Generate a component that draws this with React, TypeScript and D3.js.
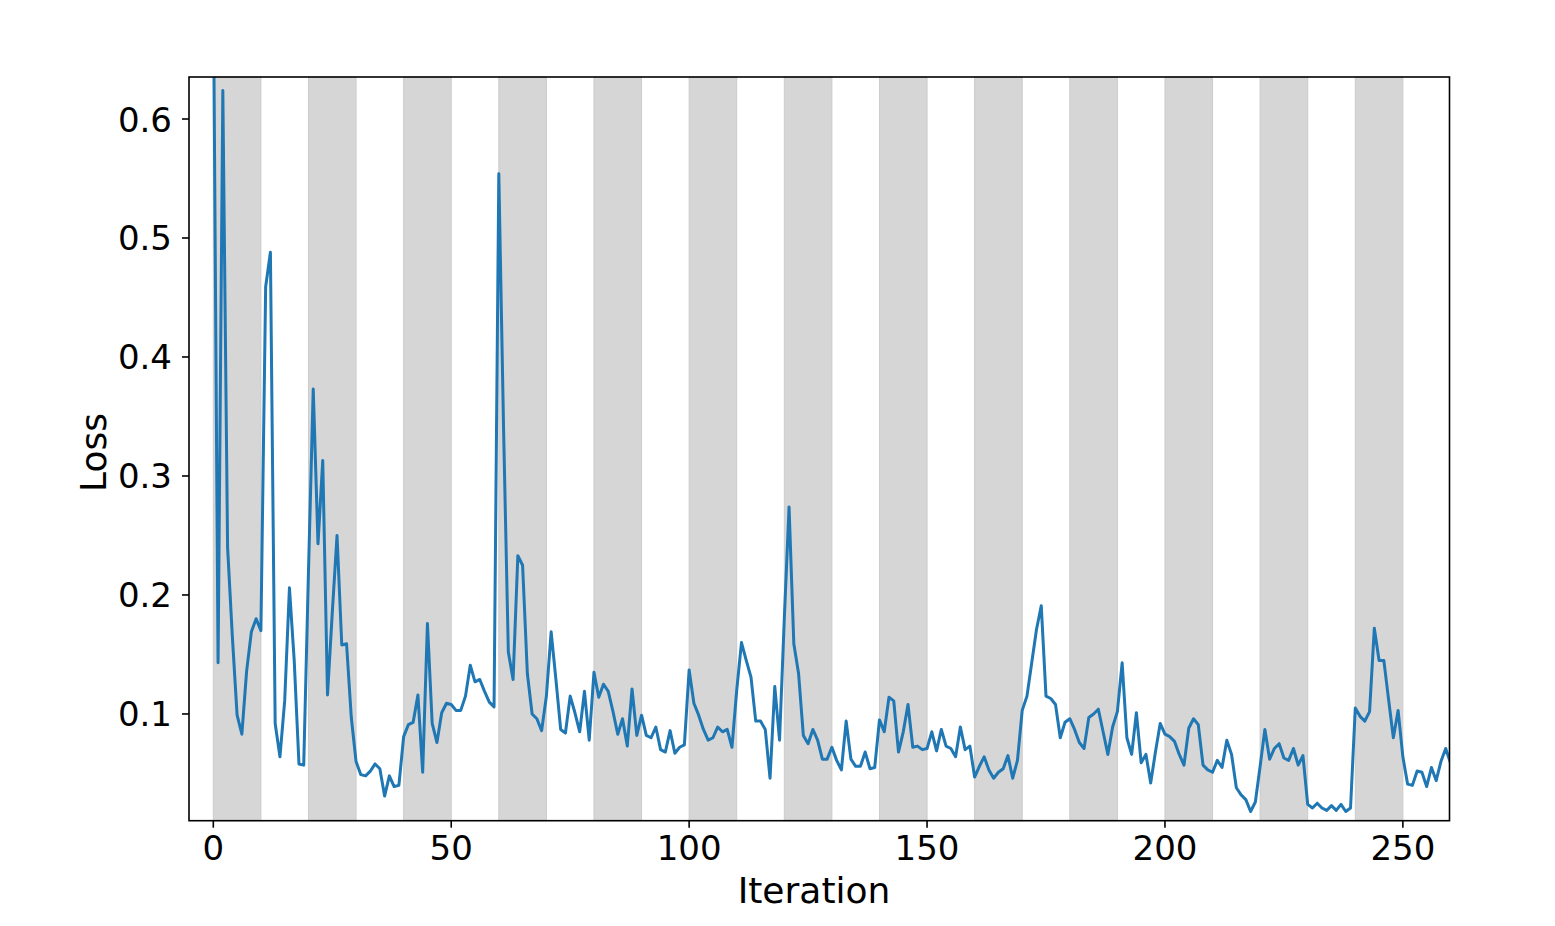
import { useEffect, useRef } from 'react';
import { select, scaleLinear, line } from 'd3';

const width = 1555;
const height = 926;
const margin = { top: 77, right: 105.5, bottom: 105.3, left: 189 };

// loss per iteration (x = 0..260)
const lossValues = [
  0.72, 0.143, 0.624, 0.24, 0.165, 0.099, 0.083, 0.136, 0.169, 0.18,
  0.17, 0.459, 0.488, 0.092, 0.064, 0.111, 0.206, 0.145, 0.058, 0.057,
  0.22, 0.373, 0.243, 0.313, 0.116, 0.185, 0.25, 0.158, 0.159, 0.097,
  0.06, 0.049, 0.048, 0.052, 0.058, 0.054, 0.031, 0.048, 0.039, 0.04,
  0.081, 0.091, 0.093, 0.116, 0.051, 0.176, 0.092, 0.076, 0.101, 0.109,
  0.108, 0.103, 0.103, 0.115, 0.141, 0.127, 0.129, 0.119, 0.11, 0.106,
  0.554, 0.34, 0.152, 0.129, 0.233, 0.225, 0.134, 0.1, 0.096, 0.086,
  0.115, 0.169, 0.129, 0.087, 0.084, 0.115, 0.101, 0.085, 0.119, 0.078,
  0.135, 0.114, 0.125, 0.119, 0.102, 0.083, 0.096, 0.073, 0.121, 0.082,
  0.099, 0.082, 0.08, 0.089, 0.07, 0.068, 0.086, 0.067, 0.072, 0.074,
  0.137, 0.109, 0.099, 0.087, 0.078, 0.08, 0.089, 0.085, 0.087, 0.072,
  0.12, 0.16, 0.145, 0.131, 0.094, 0.094, 0.087, 0.046, 0.123, 0.078,
  0.18, 0.274, 0.159, 0.134, 0.082, 0.075, 0.087, 0.078, 0.062, 0.062,
  0.072, 0.061, 0.053, 0.094, 0.062, 0.056, 0.056, 0.068, 0.054, 0.055,
  0.095, 0.085, 0.114, 0.111, 0.068, 0.085, 0.108, 0.072, 0.073, 0.07,
  0.071, 0.085, 0.069, 0.087, 0.073, 0.071, 0.064, 0.089, 0.07, 0.073,
  0.047, 0.056, 0.064, 0.053, 0.046, 0.051, 0.054, 0.065, 0.046, 0.061,
  0.103, 0.115, 0.143, 0.171, 0.191, 0.115, 0.113, 0.108, 0.08, 0.093,
  0.096, 0.087, 0.076, 0.071, 0.097, 0.1, 0.104, 0.085, 0.066, 0.089,
  0.102, 0.143, 0.08, 0.066, 0.101, 0.059, 0.066, 0.042, 0.068, 0.092,
  0.083, 0.081, 0.077, 0.066, 0.057, 0.088, 0.096, 0.091, 0.057, 0.053,
  0.051, 0.061, 0.055, 0.078, 0.066, 0.038, 0.032, 0.028, 0.018, 0.026,
  0.056, 0.087, 0.062, 0.071, 0.075, 0.063, 0.061, 0.071, 0.057, 0.065,
  0.024, 0.021, 0.025, 0.021, 0.019, 0.023, 0.019, 0.024, 0.018, 0.021,
  0.105, 0.098, 0.094, 0.102, 0.172, 0.145, 0.145, 0.112, 0.08, 0.103,
  0.064, 0.041, 0.04, 0.052, 0.051, 0.039, 0.055, 0.044, 0.06, 0.071,
  0.059,
];

// shaded iteration windows, each bandWidth long
const bandStarts = [0, 20, 40, 60, 80, 100, 120, 140, 160, 180, 200, 220, 240];
const bandWidth = 10;

const xTicks = [0, 50, 100, 150, 200, 250];
const yTicks = [0.1, 0.2, 0.3, 0.4, 0.5, 0.6];

const xLabel = 'Iteration';
const yLabel = 'Loss';

const font = '"DejaVu Sans", sans-serif';
const tickFontSize = 34;
const labelFontSize = 36;

export default function App() {
  const ref = useRef<SVGSVGElement>(null);

  useEffect(() => {
    const svg = select(ref.current);
    svg.selectAll('*').remove();

    const innerW = width - margin.left - margin.right;
    const innerH = height - margin.top - margin.bottom;

    const x = scaleLinear().domain([-5.11, 259.8]).range([0, innerW]);
    const y = scaleLinear().domain([0.0103, 0.6353]).range([innerH, 0]);

    svg
      .append('defs')
      .append('clipPath')
      .attr('id', 'plot-clip')
      .append('rect')
      .attr('width', innerW)
      .attr('height', innerH);

    const g = svg
      .append('g')
      .attr('transform', `translate(${margin.left},${margin.top})`);

    // background bands
    g.selectAll('.band')
      .data(bandStarts)
      .join('rect')
      .attr('class', 'band')
      .attr('x', (d) => x(d))
      .attr('y', 0)
      .attr('width', (d) => x(d + bandWidth) - x(d))
      .attr('height', innerH)
      .attr('fill', '#d6d6d6')
      .attr('stroke', '#cbcbcb')
      .attr('stroke-width', 1);

    // loss line
    const lineGen = line<number>()
      .x((d, i) => x(i))
      .y((d) => y(d));

    g.append('path')
      .datum(lossValues)
      .attr('clip-path', 'url(#plot-clip)')
      .attr('d', lineGen)
      .attr('fill', 'none')
      .attr('stroke', '#1f77b4')
      .attr('stroke-width', 3)
      .attr('stroke-linejoin', 'round')
      .attr('stroke-linecap', 'square');

    // frame
    g.append('rect')
      .attr('width', innerW)
      .attr('height', innerH)
      .attr('fill', 'none')
      .attr('stroke', '#000')
      .attr('stroke-width', 1.6);

    // x ticks
    const xt = g
      .selectAll('.xtick')
      .data(xTicks)
      .join('g')
      .attr('class', 'xtick')
      .attr('transform', (d) => `translate(${x(d)},${innerH})`);
    xt.append('line').attr('y2', 7).attr('stroke', '#000').attr('stroke-width', 1.6);
    xt.append('text')
      .attr('y', 39.5)
      .attr('text-anchor', 'middle')
      .style('font-family', font)
      .style('font-size', tickFontSize + 'px')
      .attr('fill', '#000')
      .text((d) => d);

    // y ticks
    const yt = g
      .selectAll('.ytick')
      .data(yTicks)
      .join('g')
      .attr('class', 'ytick')
      .attr('transform', (d) => `translate(0,${y(d)})`);
    yt.append('line').attr('x2', -7).attr('stroke', '#000').attr('stroke-width', 1.6);
    yt.append('text')
      .attr('x', -17)
      .attr('y', 12.5)
      .attr('text-anchor', 'end')
      .style('font-family', font)
      .style('font-size', tickFontSize + 'px')
      .attr('fill', '#000')
      .text((d) => d.toFixed(1));

    // axis labels
    g.append('text')
      .attr('x', 814 - margin.left)
      .attr('y', 903 - margin.top)
      .attr('text-anchor', 'middle')
      .style('font-family', font)
      .style('font-size', labelFontSize + 'px')
      .text(xLabel);

    g.append('text')
      .attr('transform', `translate(${106 - margin.left},${452.5 - margin.top}) rotate(-90)`)
      .attr('text-anchor', 'middle')
      .style('font-family', font)
      .style('font-size', labelFontSize + 'px')
      .text(yLabel);
  }, []);

  return (
    <svg
      ref={ref}
      width={width}
      height={height}
      style={{ position: 'absolute', left: 0, top: 0, background: '#fff' }}
    />
  );
}
